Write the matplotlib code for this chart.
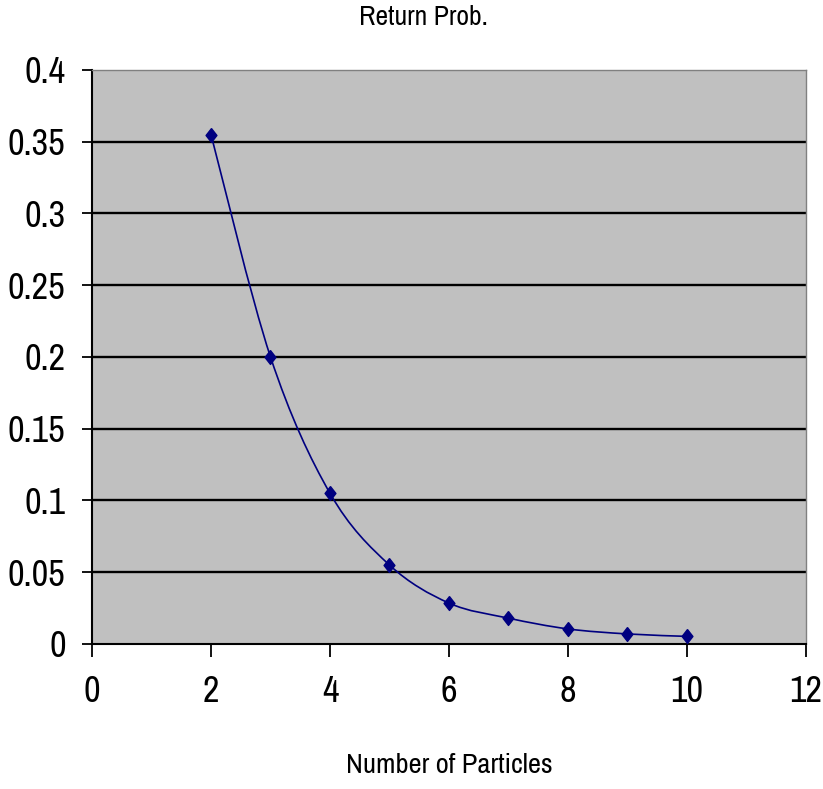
import numpy as np
import matplotlib
matplotlib.use("Agg")
import matplotlib.pyplot as plt
from matplotlib.path import Path
from matplotlib.patches import PathPatch

# particle count vs. return probability
particles = [2, 3, 4, 5, 6, 7, 8, 9, 10]
return_prob = [0.355, 0.2, 0.105, 0.055, 0.0285, 0.018, 0.0105, 0.007, 0.0053]

x_ticks = [0, 2, 4, 6, 8, 10, 12]
y_ticks = [0, 0.05, 0.1, 0.15, 0.2, 0.25, 0.3, 0.35, 0.4]
y_labels = ["0", "0.05", "0.1", "0.15", "0.2", "0.25", "0.3", "0.35", "0.4"]

plt.rcParams['font.family'] = ['Liberation Sans Narrow', 'Archivo Narrow', 'DejaVu Sans']

NAVY = "#000080"
# slightly taller-than-wide diamond
DIAMOND = [(0, 1), (0.78, 0), (0, -1), (-0.78, 0), (0, 1)]


def smooth_path(xs, ys):
    # bezier segments like a spreadsheet "smoothed line"
    pts = np.column_stack([xs, ys]).astype(float)
    n = len(pts)
    verts = [pts[0]]
    codes = [Path.MOVETO]
    for i in range(n - 1):
        p0 = pts[i - 1] if i > 0 else pts[i]
        p1 = pts[i]
        p2 = pts[i + 1]
        p3 = pts[i + 2] if i + 2 < n else pts[i + 1]
        c1 = p1 + (p2 - p0) / 6.0
        c2 = p2 - (p3 - p1) / 6.0
        verts += [c1, c2, p2]
        codes += [Path.CURVE4] * 3
    return Path(verts, codes)


fig = plt.figure(figsize=(8.23, 7.89), dpi=100)
ax = fig.add_axes([0.1118, 0.1838, 0.8675, 0.7275])
ax.set_facecolor("#C0C0C0")

# horizontal grid lines
for yv in y_ticks[1:-1]:
    ax.axhline(yv, color="black", lw=1.7, zorder=1)

ax.add_patch(PathPatch(smooth_path(particles, return_prob), fill=False,
                       edgecolor=NAVY, lw=1.2, zorder=3))
ax.plot(particles, return_prob, linestyle="none", marker=DIAMOND, ms=10,
        color=NAVY, zorder=4)

ax.set_xlim(0, 12)
ax.set_ylim(0, 0.4)
ax.set_xticks(x_ticks)
ax.set_xticklabels([str(v) for v in x_ticks])
ax.set_yticks(y_ticks)
ax.set_yticklabels(y_labels)

for side in ("top", "right"):
    ax.spines[side].set_color("#808080")
    ax.spines[side].set_linewidth(1.0)
for side in ("left", "bottom"):
    ax.spines[side].set_color("black")
    ax.spines[side].set_linewidth(1.5)

ax.tick_params(axis="y", direction="out", length=7, width=1.3,
               labelsize=26, pad=12, colors="black")
ax.tick_params(axis="x", direction="out", length=9, width=1.3,
               labelsize=26, pad=13, colors="black")

fig.text(0.514, 0.978, "Return Prob.", ha="center", va="center", fontsize=20)
fig.text(0.546, 0.030, "Number of Particles", ha="center", va="center",
         fontsize=20.5)

fig.savefig("out.png", dpi=100, facecolor="white")
